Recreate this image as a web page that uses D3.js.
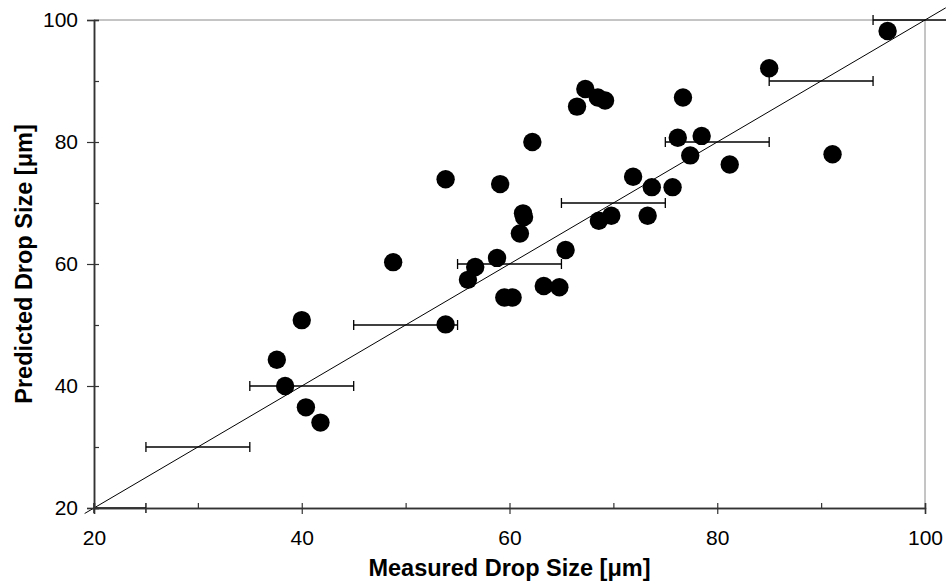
<!DOCTYPE html>
<html>
<head>
<meta charset="utf-8">
<script src="https://cdn.jsdelivr.net/npm/d3@7"></script>
<style>
  html, body { margin: 0; padding: 0; background: #fff; }
  svg { display: block; font-family: Arial, "Liberation Sans", sans-serif; }
</style>
</head>
<body>
<svg id="chart" width="946" height="583"></svg>
<script>
// ---- data ----
const measured = [37.6, 38.4, 40.0, 40.4, 41.8, 48.8, 53.85, 53.85, 56.0, 56.7,
                  58.8, 59.1, 59.5, 60.3, 61.0, 61.3, 61.4, 62.2, 63.3, 64.8,
                  65.4, 66.5, 67.3, 68.5, 69.2, 68.6, 69.8, 71.9, 73.3, 73.7,
                  75.7, 76.2, 76.7, 77.4, 78.5, 81.2, 85.0, 91.1, 96.4];
const predicted = [44.3, 40.0, 50.8, 36.5, 34.0, 60.3, 50.1, 73.9, 57.4, 59.5,
                   61.0, 73.1, 54.5, 54.5, 65.0, 68.3, 67.7, 80.0, 56.4, 56.2,
                   62.3, 85.8, 88.7, 87.3, 86.8, 67.1, 67.9, 74.3, 67.9, 72.6,
                   72.6, 80.7, 87.3, 77.8, 81.0, 76.3, 92.1, 78.0, 98.2];
// horizontal error bars along the parity line
const errCenter = [20, 30, 40, 50, 60, 70, 80, 90, 100];
const errLow    = [20, 25, 35, 45, 55, 65, 75, 85, 95];
const errHigh   = [25, 35, 45, 55, 65, 75, 85, 95, 105];
// parity line y = x
const parityLine = [19.1, 102];
const xMajorTicks = [20, 40, 60, 80, 100];
const xMinorTicks = [20, 30, 40, 50, 60, 70, 80, 90, 100];
const yMajorTicks = [20, 40, 60, 80, 100];
const yMinorTicks = [20, 30, 40, 50, 60, 70, 80, 90, 100];
const xTitle = "Measured Drop Size [\u03bcm]";
const yTitle = "Predicted Drop Size [\u03bcm]";

// ---- layout ----
const L = 94, R = 925, T = 20, B = 508;
const svg = d3.select("#chart");
const x = d3.scaleLinear().domain([20, 100]).range([L, R]);
const y = d3.scaleLinear().domain([20, 100]).range([B, T]);

// frame top/right (gray)
svg.append("line").attr("x1", L).attr("x2", R).attr("y1", T).attr("y2", T)
   .attr("stroke", "#8a8a8a").attr("stroke-width", 1);
svg.append("line").attr("x1", R).attr("x2", R).attr("y1", T).attr("y2", B)
   .attr("stroke", "#8a8a8a").attr("stroke-width", 1);

// parity line
svg.append("line")
   .attr("x1", x(parityLine[0])).attr("y1", y(parityLine[0]))
   .attr("x2", x(parityLine[1])).attr("y2", y(parityLine[1]))
   .attr("stroke", "#000").attr("stroke-width", 1);

// error bars
const eb = svg.append("g").attr("stroke", "#000").attr("stroke-width", 1.6);
errCenter.forEach((c, i) => {
  eb.append("line").attr("x1", x(errLow[i])).attr("x2", x(errHigh[i]))
    .attr("y1", y(c)).attr("y2", y(c));
  [errLow[i], errHigh[i]].forEach(v => {
    eb.append("line").attr("x1", x(v)).attr("x2", x(v))
      .attr("y1", y(c) - 5).attr("y2", y(c) + 5).attr("stroke-width", 1.3);
  });
});

// axes
const axisColor = "#333";
const gx = svg.append("g").attr("transform", `translate(0,${B})`)
  .call(d3.axisBottom(x).tickValues(xMajorTicks).tickSize(6).tickPadding(16)
        .tickFormat(d3.format("d")));
const gx2 = svg.append("g").attr("transform", `translate(0,${B})`)
  .call(d3.axisBottom(x).tickValues(xMinorTicks).tickSize(-5).tickFormat(""));
const gy = svg.append("g").attr("transform", `translate(${L},0)`)
  .call(d3.axisLeft(y).tickValues(yMajorTicks).tickSize(7).tickPadding(9)
        .tickFormat(d3.format("d")));
const gy2 = svg.append("g").attr("transform", `translate(${L},0)`)
  .call(d3.axisLeft(y).tickValues(yMinorTicks).tickSize(-5).tickFormat(""));

[gx, gx2, gy, gy2].forEach(g => {
  g.select(".domain").attr("stroke", axisColor).attr("stroke-width", 1.5);
  g.selectAll(".tick line").attr("stroke", axisColor).attr("stroke-width", 1.2);
  g.selectAll(".tick text").attr("fill", "#000")
   .style("font-size", "21px").style("font-family", "Arial, 'Liberation Sans', sans-serif");
});

// points
svg.append("g").selectAll("circle")
  .data(measured.map((m, i) => [m, predicted[i]]))
  .join("circle")
  .attr("cx", d => x(d[0])).attr("cy", d => y(d[1]))
  .attr("r", 9.2).attr("fill", "#000");

// titles
svg.append("text").attr("x", (L + R) / 2).attr("y", 576)
  .attr("text-anchor", "middle").style("font-size", "23.5px").style("font-weight", "bold")
  .text(xTitle);
svg.append("text")
  .attr("transform", `translate(32,${(T + B) / 2}) rotate(-90)`)
  .attr("text-anchor", "middle").style("font-size", "23.5px").style("font-weight", "bold")
  .text(yTitle);
</script>
</body>
</html>
